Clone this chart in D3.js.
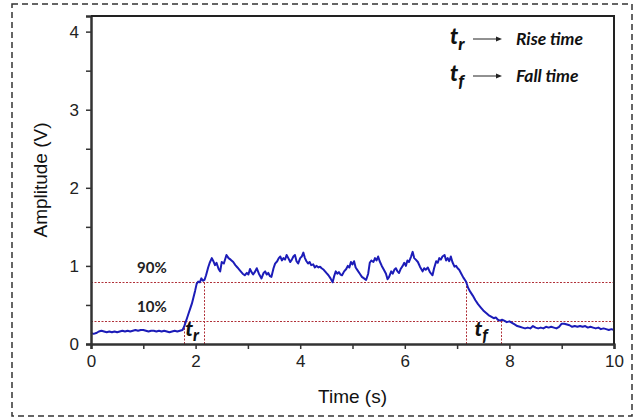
<!DOCTYPE html>
<html>
<head>
<meta charset="utf-8">
<script src="https://cdn.jsdelivr.net/npm/d3@7"></script>
<style>
  body { margin: 0; background: #fff; }
  svg text { font-family: "Liberation Sans", Arial, sans-serif; }
</style>
</head>
<body>
<div id="svg-area"></div>
<script>
var svgWidth = 636;
var svgHeight = 418;

// axis ticks
var xTicks = [0, 2, 4, 6, 8, 10];
var xMinor = [1, 3, 5, 7, 9];
var yTicks = [0, 1, 2, 3, 4];
var yMinor = [0.5, 1.5, 2.5, 3.5];

// threshold levels (10% / 90%) and the crossing times
var levels = [0.3, 0.8];
var levelLabels = ["10%", "90%"];
var riseTimes = [1.78, 2.17];
var fallTimes = [7.17, 7.84];

// signal: [time (s), amplitude (V)]
var signal = [
  [0,0.14],[0.05,0.13],[0.1,0.14],[0.15,0.16],[0.2,0.17],[0.25,0.16],[0.3,0.15],[0.35,0.16],
  [0.4,0.15],[0.45,0.16],[0.5,0.15],[0.55,0.16],[0.6,0.17],[0.65,0.16],[0.7,0.17],[0.75,0.16],
  [0.8,0.17],[0.85,0.18],[0.9,0.17],[0.95,0.18],[1.0,0.18],[1.05,0.17],[1.1,0.16],[1.15,0.17],
  [1.2,0.17],[1.25,0.16],[1.3,0.17],[1.35,0.16],[1.4,0.17],[1.45,0.16],[1.5,0.15],[1.55,0.16],
  [1.6,0.17],[1.65,0.16],[1.7,0.17],[1.75,0.18],
  [1.78,0.22],[1.81,0.28],[1.84,0.34],[1.87,0.40],[1.9,0.46],[1.93,0.52],[1.96,0.6],[1.99,0.68],
  [2.02,0.77],[2.05,0.8],[2.08,0.79],[2.11,0.84],[2.14,0.81],[2.17,0.82],[2.2,0.88],[2.24,0.98],
  [2.27,1.04],[2.31,1.1],[2.34,1.06],[2.37,1.01],[2.4,1.04],[2.44,0.96],[2.47,0.93],[2.5,1.05],
  [2.54,1.03],[2.59,1.14],[2.63,1.1],[2.67,1.08],[2.72,1.05],[2.76,1.01],[2.8,0.98],[2.85,0.94],
  [2.9,0.9],[2.94,0.88],[2.98,0.91],[3.01,0.89],[3.04,0.96],[3.07,0.92],[3.1,0.89],[3.14,0.93],
  [3.17,0.97],[3.21,0.9],[3.26,0.84],[3.3,0.91],[3.33,0.93],[3.36,0.89],[3.39,0.91],[3.42,0.87],
  [3.45,0.86],[3.49,0.97],[3.52,1.03],[3.56,1.06],[3.59,1.1],[3.62,1.12],[3.65,1.07],[3.68,1.1],
  [3.71,1.08],[3.74,1.14],[3.78,1.09],[3.81,1.05],[3.84,1.08],[3.87,1.12],[3.9,1.14],[3.93,1.06],
  [3.96,1.03],[4.0,1.1],[4.03,1.12],[4.06,1.17],[4.09,1.1],[4.12,1.06],[4.15,1.03],[4.18,1.05],
  [4.21,1.01],[4.25,1.02],[4.28,0.98],[4.31,1.0],[4.35,0.98],[4.38,0.99],[4.41,0.97],[4.45,0.95],
  [4.5,0.91],[4.54,0.88],[4.58,0.84],[4.62,0.79],[4.65,0.87],[4.68,0.93],[4.71,0.9],[4.74,0.92],
  [4.77,0.89],[4.8,0.88],[4.84,0.93],[4.88,0.96],[4.91,1.0],[4.94,0.98],[4.97,1.05],[5.0,1.02],
  [5.03,1.06],[5.06,0.98],[5.1,0.94],[5.14,0.9],[5.18,0.86],[5.22,0.84],[5.26,0.82],[5.3,0.9],
  [5.33,1.04],[5.36,1.07],[5.4,1.05],[5.43,1.1],[5.46,1.07],[5.49,1.12],[5.52,1.06],[5.56,1.0],
  [5.6,0.95],[5.64,0.9],[5.67,0.83],[5.7,0.86],[5.74,0.93],[5.77,0.9],[5.8,0.95],[5.83,0.97],
  [5.86,0.93],[5.89,0.91],[5.92,0.96],[5.96,1.0],[5.99,1.04],[6.02,1.0],[6.05,1.07],[6.08,1.05],
  [6.12,1.12],[6.15,1.18],[6.18,1.1],[6.21,1.08],[6.25,1.05],[6.29,0.99],[6.34,0.93],[6.37,0.97],
  [6.4,0.95],[6.44,0.98],[6.48,0.92],[6.53,0.88],[6.56,0.97],[6.6,1.06],[6.63,1.04],[6.66,1.1],
  [6.69,1.08],[6.72,1.12],[6.76,1.14],[6.79,1.07],[6.82,1.1],[6.85,1.06],[6.88,1.12],[6.91,1.05],
  [6.95,0.99],[6.98,1.0],[7.01,0.97],[7.04,0.95],[7.08,0.9],[7.12,0.85],[7.17,0.8],[7.21,0.72],
  [7.25,0.67],[7.3,0.62],[7.35,0.56],[7.4,0.51],[7.45,0.47],[7.5,0.43],[7.55,0.4],[7.6,0.37],
  [7.65,0.35],[7.7,0.33],[7.74,0.34],[7.78,0.31],[7.82,0.3],[7.86,0.31],[7.9,0.3],[7.95,0.28],
  [8.0,0.29],[8.05,0.27],[8.1,0.25],[8.15,0.23],[8.2,0.22],[8.25,0.21],[8.3,0.2],[8.35,0.21],
  [8.4,0.2],[8.45,0.23],[8.5,0.21],[8.55,0.2],[8.6,0.21],[8.65,0.2],[8.7,0.22],[8.75,0.21],
  [8.8,0.22],[8.85,0.21],[8.9,0.2],[8.95,0.22],[9.0,0.26],[9.05,0.26],[9.1,0.25],[9.15,0.24],
  [9.2,0.22],[9.25,0.23],[9.3,0.22],[9.35,0.23],[9.4,0.22],[9.45,0.23],[9.5,0.21],[9.55,0.22],
  [9.6,0.21],[9.65,0.2],[9.7,0.21],[9.75,0.19],[9.8,0.2],[9.85,0.19],[9.9,0.18],[9.95,0.19],
  [10,0.18]
];

// legend entries
var legendSub = ["r", "f"];
var legendText = ["Rise time", "Fall time"];

var margin = { top: 16, right: 22, bottom: 74, left: 91 };
var width = svgWidth - margin.left - margin.right;
var height = svgHeight - margin.top - margin.bottom;

var svg = d3.select("#svg-area")
  .append("svg")
  .attr("width", svgWidth)
  .attr("height", svgHeight);

// dashed outer frame
svg.append("rect")
  .attr("x", 12).attr("y", 4)
  .attr("width", 620).attr("height", 412)
  .attr("fill", "none")
  .attr("stroke", "#333")
  .attr("stroke-width", 1.5)
  .attr("stroke-dasharray", "6,4");

var g = svg.append("g")
  .attr("transform", "translate(" + margin.left + "," + margin.top + ")");

var x = d3.scaleLinear().domain([0, 10]).range([0, width]);
var y = d3.scaleLinear().domain([0, 4.2]).range([height, 0]);

// threshold lines
var red = "#b03038";
g.selectAll(".level")
  .data(levels)
  .enter().append("line")
  .attr("x1", 0).attr("x2", width)
  .attr("y1", d => Math.round(y(d)) + 0.5).attr("y2", d => Math.round(y(d)) + 0.5)
  .attr("stroke", red).attr("stroke-width", 1)
  .attr("stroke-dasharray", "2,1.5");

var verticals = [
  { t: riseTimes[0], top: levels[0] }, { t: riseTimes[1], top: levels[1] },
  { t: fallTimes[0], top: levels[1] }, { t: fallTimes[1], top: levels[0] }
];
g.selectAll(".vmark")
  .data(verticals)
  .enter().append("line")
  .attr("x1", d => Math.round(x(d.t)) + 0.5).attr("x2", d => Math.round(x(d.t)) + 0.5)
  .attr("y1", y(0)).attr("y2", d => y(d.top))
  .attr("stroke", red).attr("stroke-width", 1)
  .attr("stroke-dasharray", "2,1.5");

// signal line
var line = d3.line()
  .x(d => x(d[0]))
  .y(d => y(d[1]));

g.append("path")
  .datum(signal)
  .attr("d", line)
  .attr("fill", "none")
  .attr("stroke", "#1c1cb8")
  .attr("stroke-width", 2)
  .attr("stroke-linejoin", "round");

// axes
g.append("g")
  .attr("transform", "translate(0," + height + ")")
  .call(d3.axisBottom(x).tickValues(xTicks).tickSize(5).tickPadding(6).tickFormat(d3.format("d")));
g.append("g")
  .attr("transform", "translate(0," + height + ")")
  .call(d3.axisBottom(x).tickValues(xMinor).tickSize(5).tickFormat(""));

g.append("g")
  .call(d3.axisLeft(y).tickValues(yTicks).tickSize(5).tickPadding(7).tickFormat(d3.format("d")));
g.append("g")
  .call(d3.axisLeft(y).tickValues(yMinor).tickSize(5).tickFormat(""));

g.selectAll(".domain").attr("stroke", "#333").attr("stroke-width", 2);
g.selectAll(".tick line").attr("stroke", "#333").attr("stroke-width", 1.5);
g.selectAll(".tick text")
  .attr("fill", "#222")
  .style("font-size", "17px");

// top and right frame
g.append("path")
  .attr("d", "M0,0H" + width + "V" + height)
  .attr("fill", "none")
  .attr("stroke", "#222")
  .attr("stroke-width", 2);

// axis titles
svg.append("text")
  .attr("x", margin.left + width / 2)
  .attr("y", 403)
  .attr("text-anchor", "middle")
  .style("font-size", "19px")
  .attr("fill", "#111")
  .text("Time (s)");

svg.append("text")
  .attr("transform", "translate(47," + (margin.top + height / 2) + ") rotate(-90)")
  .attr("text-anchor", "middle")
  .style("font-size", "19px")
  .attr("fill", "#111")
  .text("Amplitude (V)");

// percentage labels
g.selectAll(".lvlLabel")
  .data(levels)
  .enter().append("text")
  .attr("x", x(0.88))
  .attr("y", d => y(d) - 9)
  .style("font-family", "Lato, 'Open Sans', sans-serif")
  .style("font-weight", "bold")
  .style("font-size", "15px")
  .attr("fill", "#222")
  .text((d, i) => levelLabels[i]);

// t_r / t_f labels
function tLabel(parent, px, py, sub, size) {
  var t = parent.append("text")
    .attr("x", px).attr("y", py)
    .style("font-family", "Lato, 'Open Sans', sans-serif")
    .style("font-style", "italic")
    .style("font-weight", "900")
    .style("font-size", size + "px")
    .attr("fill", "#111");
  t.append("tspan").text("t");
  t.append("tspan")
    .attr("dy", size * 0.25)
    .style("font-size", (size * 0.8) + "px")
    .text(sub);
}
tLabel(g, x((riseTimes[0] + riseTimes[1]) / 2) - 9, y(0) - 8, "r", 21);
tLabel(g, x((fallTimes[0] + fallTimes[1]) / 2) - 9, y(0) - 8, "f", 21);

// legend
var legend = svg.append("g");
legendText.forEach(function(txt, i) {
  var ly = 44 + i * 37;
  tLabel(legend, 450, ly, legendSub[i], 22);
  legend.append("line")
    .attr("x1", 473).attr("x2", 497)
    .attr("y1", ly - 5).attr("y2", ly - 5)
    .attr("stroke", "#222").attr("stroke-width", 1);
  legend.append("path")
    .attr("d", "M496," + (ly - 7.5) + "L502," + (ly - 5) + "L496," + (ly - 2.5) + "Z")
    .attr("fill", "#222");
  legend.append("text")
    .attr("x", 516).attr("y", ly + 1)
    .style("font-family", "Lato, 'Open Sans', sans-serif")
    .style("font-style", "italic")
    .style("font-weight", "bold")
    .style("font-size", "17.5px")
    .attr("fill", "#111")
    .text(txt);
});
</script>
</body>
</html>
